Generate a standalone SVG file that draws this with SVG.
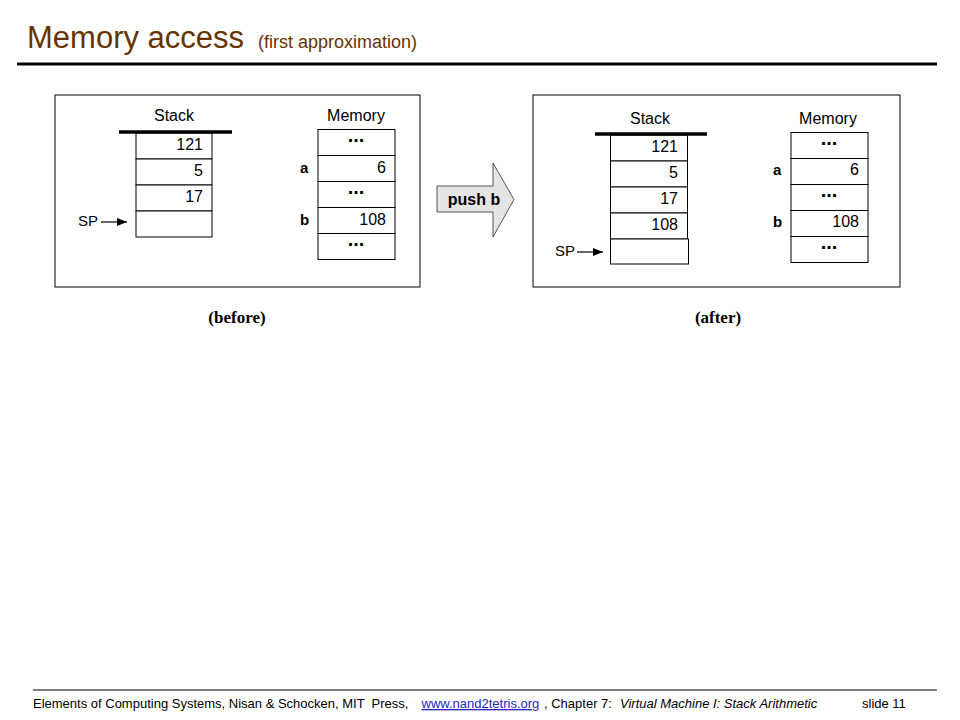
<svg xmlns="http://www.w3.org/2000/svg" width="960" height="720" viewBox="0 0 960 720">
<defs>
<style>
.t{font-family:"Liberation Sans",Arial,sans-serif;fill:#000}
.lbl{font-size:16px}
.num{font-size:16px;text-anchor:end}
.dots{font-size:20px;font-weight:bold;text-anchor:middle}
.var{font-size:15px;font-weight:bold}
.cell{fill:#fff;stroke:#000;stroke-width:1}
.frame{fill:#fff;stroke:#000;stroke-width:1}
.bar{stroke:#000;stroke-width:3.5}
.ptr{stroke:#000;stroke-width:1.2}
.cap{font-family:"Liberation Serif","Times New Roman",serif;font-size:17px;font-weight:bold;text-anchor:middle}
.foot{font-family:"Liberation Sans",Arial,sans-serif;font-size:13px;fill:#000}
</style>
<marker id="ah" viewBox="0 0 10 8" refX="10" refY="4" markerWidth="10" markerHeight="8" markerUnits="userSpaceOnUse" orient="auto">
<path d="M0,0 L10,4 L0,8 z" fill="#000"/>
</marker>
</defs>
<rect width="960" height="720" fill="#fff"/>

<g id="title">
<text x="27" y="48" class="t" style="font-size:31px;fill:#663300">Memory access</text>
<text x="258" y="48" class="t" style="font-size:18px;fill:#663300">(first approximation)</text>
<line x1="17" y1="64" x2="937" y2="64" stroke="#000" stroke-width="3"/>
</g>

<g id="before">
<rect class="frame" x="55" y="95" width="365" height="192"/>
<g id="before-stack">
<text class="t lbl" x="174" y="121" text-anchor="middle">Stack</text>
<rect class="cell" x="136" y="133" width="76" height="26"/>
<rect class="cell" x="136" y="159" width="76" height="26"/>
<rect class="cell" x="136" y="185" width="76" height="26"/>
<rect class="cell" x="136" y="211" width="76" height="26"/>
<line class="bar" x1="119" y1="132" x2="232" y2="132"/>
<text class="t num" x="203" y="150">121</text>
<text class="t num" x="203" y="176">5</text>
<text class="t num" x="203" y="202">17</text>
</g>
<g id="before-memory">
<text class="t lbl" x="356" y="121" text-anchor="middle">Memory</text>
<rect class="cell" x="318" y="129.5" width="77" height="26"/>
<rect class="cell" x="318" y="155.5" width="77" height="26"/>
<rect class="cell" x="318" y="181.5" width="77" height="26"/>
<rect class="cell" x="318" y="207.5" width="77" height="26"/>
<rect class="cell" x="318" y="233.5" width="77" height="26"/>
<text class="t dots" x="356" y="142">...</text>
<text class="t num" x="386" y="173">6</text>
<text class="t dots" x="356" y="194">...</text>
<text class="t num" x="386" y="225">108</text>
<text class="t dots" x="356" y="246">...</text>
<text class="t var" x="300" y="173">a</text>
<text class="t var" x="300" y="225">b</text>
</g>
<text class="t" x="78" y="226" style="font-size:15px">SP</text>
</g>

<g id="push-b">
<polygon points="437,186 493,186 493,163 514,199.5 493,237 493,212 437,212" fill="#e4e4e4" stroke="#555" stroke-width="1"/>
<text class="t" x="474" y="205" text-anchor="middle" style="font-size:16px;font-weight:bold">push b</text>
</g>

<g id="after">
<rect class="frame" x="533" y="95" width="367" height="192"/>
<g id="after-stack">
<text class="t lbl" x="650" y="124" text-anchor="middle">Stack</text>
<rect class="cell" x="610.5" y="135" width="77" height="26"/>
<rect class="cell" x="610.5" y="161" width="77" height="26"/>
<rect class="cell" x="610.5" y="187" width="77" height="26"/>
<rect class="cell" x="610.5" y="213" width="77" height="26"/>
<rect class="cell" x="610.5" y="239" width="78" height="25"/>
<line class="bar" x1="595" y1="134" x2="707" y2="134"/>
<text class="t num" x="678" y="152">121</text>
<text class="t num" x="678" y="178">5</text>
<text class="t num" x="678" y="204">17</text>
<text class="t num" x="678" y="230">108</text>
</g>
<g id="after-memory">
<text class="t lbl" x="828" y="124" text-anchor="middle">Memory</text>
<rect class="cell" x="791" y="132.5" width="77" height="26"/>
<rect class="cell" x="791" y="158.5" width="77" height="26"/>
<rect class="cell" x="791" y="184.5" width="77" height="26"/>
<rect class="cell" x="791" y="210.5" width="77" height="26"/>
<rect class="cell" x="791" y="236.5" width="77" height="26"/>
<text class="t dots" x="829" y="145">...</text>
<text class="t num" x="859" y="175">6</text>
<text class="t dots" x="829" y="197">...</text>
<text class="t num" x="859" y="227">108</text>
<text class="t dots" x="829" y="249">...</text>
<text class="t var" x="773" y="175">a</text>
<text class="t var" x="773" y="227">b</text>
</g>
<text class="t" x="555" y="256" style="font-size:15px">SP</text>
</g>

<g id="connectors">
<line class="ptr" x1="101" y1="222" x2="127" y2="222" marker-end="url(#ah)"/>
<line class="ptr" x1="577" y1="252" x2="603" y2="252" marker-end="url(#ah)"/>
</g>

<g id="captions">
<text class="cap" x="237" y="323">(before)</text>
<text class="cap" x="718" y="323">(after)</text>
</g>

<g id="footer">
<line x1="33" y1="690" x2="937" y2="690" stroke="#000" stroke-width="1"/>
<text class="foot" x="33" y="708" xml:space="preserve">Elements of Computing Systems, Nisan &amp; Schocken, MIT  Press,</text>
<text class="foot" x="421.5" y="708" style="fill:#2424c0;text-decoration:underline">www.nand2tetris.org</text>
<text class="foot" x="544" y="708" xml:space="preserve">, Chapter 7:</text>
<text class="foot" x="620" y="708" style="font-style:italic">Virtual Machine I: Stack Arithmetic</text>
<text class="foot" x="862" y="708">slide 11</text>
</g>
</svg>
